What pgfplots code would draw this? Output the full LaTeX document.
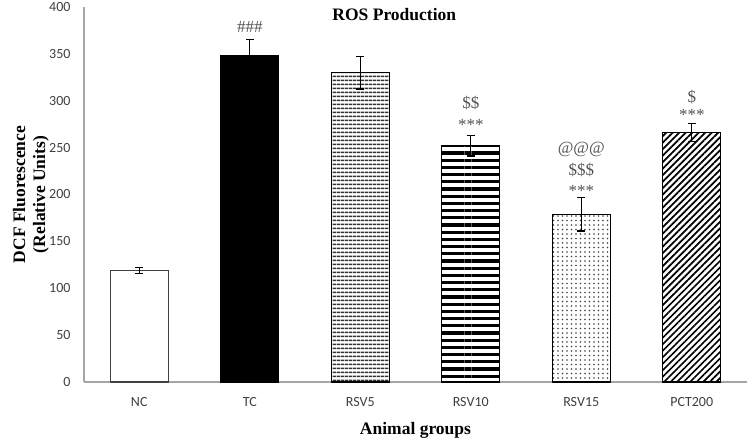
\documentclass[border=0pt]{standalone}
\usepackage{fontspec}
\setmainfont{Liberation Serif}
\newfontfamily\calibri{Carlito}
\usepackage{pgfplots}
\pgfplotsset{compat=1.18}
\usetikzlibrary{patterns.meta}
\definecolor{axgray}{HTML}{A6A6A6}
\definecolor{tickgray}{HTML}{404040}
\definecolor{annotgray}{HTML}{555555}
\begin{document}
\begin{tikzpicture}
\begin{axis}[
  name=ax,
  scale only axis,
  width=663bp, height=375bp,
  xmin=-0.5, xmax=5.5,
  ymin=0, ymax=400,
  ytick={0,50,...,400},
  xtick={0,1,2,3,4,5},
  xticklabels={NC,TC,RSV5,RSV10,RSV15,PCT200},
  axis x line*=bottom,
  axis y line*=left,
  axis line style={axgray, line width=1.3bp},
  major tick length=0pt,
  /pgf/number format/assume math mode=true,
  ticklabel style={font=\calibri\fontsize{14bp}{16bp}\selectfont, text=tickgray},
  yticklabel style={xshift=-10bp},
  xticklabel style={yshift=-12bp},
  ylabel={DCF Fluorescence\\(Relative Units)},
  ylabel style={at={(axis description cs:0,0.5)}, anchor=center, rotate=0, yshift=53bp, align=center, font=\bfseries\fontsize{17.5bp}{20bp}\selectfont},
  xlabel={Animal groups},
  xlabel style={at={(axis description cs:0.5,0)}, anchor=center, yshift=-48bp, font=\bfseries\fontsize{17.5bp}{20bp}\selectfont},
  clip=false,
]
\addplot[ybar, bar width=58bp, bar shift=0pt, draw=tickgray, line width=1.3bp, fill=white] coordinates {(0,119)};
\addplot[ybar, bar width=58bp, bar shift=0pt, draw=black, line width=1.3bp, fill=black] coordinates {(1,348)};
\addplot[ybar, bar width=58bp, bar shift=0pt, draw=black, line width=1.3bp, pattern={Lines[angle=0,distance=3.6bp,line width=1.5bp]}, pattern color=black!80] coordinates {(2,330)};
\addplot[ybar, bar width=58bp, bar shift=0pt, draw=black, line width=1.3bp, pattern={Lines[angle=0,distance=7.2bp,line width=3.2bp]}, pattern color=black] coordinates {(3,252)};
\addplot[ybar, bar width=58bp, bar shift=0pt, draw=black, line width=1.3bp, pattern={Dots[distance=4.5bp,radius=0.9bp]}, pattern color=black!75] coordinates {(4,179)};
\addplot[ybar, bar width=58bp, bar shift=0pt, draw=black, line width=1.3bp, pattern={Lines[angle=45,distance=4.6bp,line width=1.7bp]}, pattern color=black] coordinates {(5,266)};
\addplot[only marks, mark=*, mark size=0pt, mark options={draw=none, fill=none}, black,
  error bars/.cd, y dir=both, y explicit,
  error bar style={black, line width=1.3bp},
  error mark options={rotate=90, mark size=4bp, black, draw=black, line width=1.3bp}]
  coordinates {
  (0,119) +- (0,3.5)
  (1,348) +- (0,17)
  (2,330) +- (0,17.5)
  (3,252) +- (0,11)
  (4,179) +- (0,18)
  (5,266) +- (0,9.5)
};
\tikzset{annot/.style={anchor=center, text=annotgray, font=\fontsize{17bp}{19bp}\selectfont, inner sep=0pt}}
\node[annot] at (axis cs:1,379) {\#\#\#};
\node[annot] at (axis cs:3,298) {\$\$};
\node[annot] at (axis cs:3,274) {***};
\node[annot] at (axis cs:4,248.5) {@@@};
\node[annot] at (axis cs:4,226) {\$\$\$};
\node[annot] at (axis cs:4,204) {***};
\node[annot] at (axis cs:5,304) {\$};
\node[annot] at (axis cs:5,285) {***};
\node[anchor=center, font=\bfseries\fontsize{17.5bp}{20bp}\selectfont] at ([yshift=-8bp]axis description cs:0.468,1) {ROS Production};
\end{axis}
\pgfresetboundingbox
\path[use as bounding box] ([xshift=-84bp,yshift=-59bp]ax.south west) rectangle ([xshift=3bp,yshift=7bp]ax.north east);
\end{tikzpicture}
\end{document}
